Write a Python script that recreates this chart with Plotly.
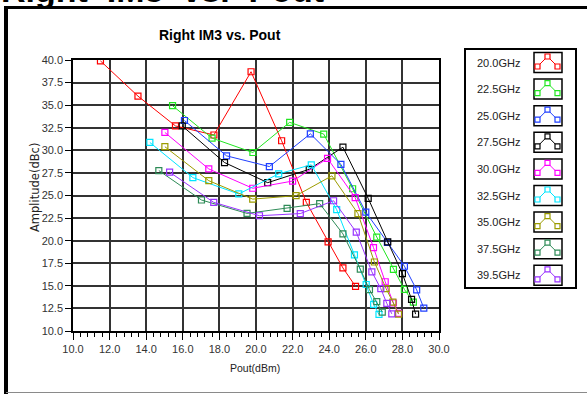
import plotly.graph_objects as go

# ---- data ----
series_names = ["20.0GHz", "22.5GHz", "25.0GHz", "27.5GHz", "30.0GHz",
                "32.5GHz", "35.0GHz", "37.5GHz", "39.5GHz"]
series_colors = ["#ff0000", "#22e622", "#1f3fff", "#000000", "#ff00ff",
                 "#00e5ff", "#9c9c00", "#2e8b57", "#9933ff"]

pout_20_0 = [11.5, 13.55, 15.6, 17.7, 19.73, 21.4, 22.75, 23.94, 24.75, 25.44]
im3_20_0 = [39.9, 36.0, 32.7, 31.7, 38.7, 31.06, 24.24, 19.87, 16.98, 14.94]

pout_22_5 = [15.44, 17.6, 19.83, 21.84, 23.7, 25.28, 26.6, 27.51, 28.11, 28.6]
im3_22_5 = [34.94, 31.35, 29.76, 33.1, 31.8, 25.75, 20.4, 16.83, 14.6, 13.2]

pout_25_0 = [16.09, 18.39, 20.73, 22.97, 24.64, 26.0, 27.18, 28.11, 28.78, 29.17]
im3_25_0 = [33.3, 29.39, 28.2, 31.83, 28.45, 23.15, 19.82, 17.17, 14.55, 12.54]

pout_27_5 = [15.97, 18.28, 20.64, 22.91, 24.75, 26.13, 27.2, 28.0, 28.5, 28.72]
im3_27_5 = [32.7, 28.65, 26.42, 27.9, 30.35, 24.68, 19.87, 16.35, 13.5, 11.87]

pout_30_0 = [15.02, 17.42, 19.82, 22.0, 23.91, 25.42, 26.42, 27.06, 27.51, 27.79]
im3_30_0 = [31.98, 27.94, 25.8, 26.6, 29.1, 24.76, 19.24, 15.45, 13.1, 11.95]

pout_32_5 = [14.2, 16.55, 19.06, 21.24, 23.02, 24.41, 25.38, 26.02, 26.43, 26.72]
im3_32_5 = [30.87, 26.98, 25.17, 27.4, 28.4, 23.43, 18.43, 15.15, 12.94, 11.83]

pout_35_0 = [15.02, 17.42, 19.82, 22.19, 24.15, 25.57, 26.47, 27.11, 27.48, 27.79]
im3_35_0 = [30.4, 26.64, 24.6, 24.98, 27.18, 23.0, 17.64, 14.69, 13.2, 11.87]

pout_37_5 = [14.69, 17.02, 19.51, 21.7, 23.48, 24.75, 25.7, 26.2, 26.6, 26.9]
im3_37_5 = [27.76, 24.5, 23.02, 23.58, 24.1, 20.75, 16.85, 14.58, 13.25, 12.1]

pout_39_5 = [15.28, 17.69, 20.19, 22.42, 24.24, 25.48, 26.33, 26.82, 27.15, 27.42]
im3_39_5 = [27.58, 24.24, 22.76, 23.0, 24.42, 20.95, 16.55, 14.69, 13.05, 11.9]

series_x = [pout_20_0, pout_22_5, pout_25_0, pout_27_5, pout_30_0,
            pout_32_5, pout_35_0, pout_37_5, pout_39_5]
series_y = [im3_20_0, im3_22_5, im3_25_0, im3_27_5, im3_30_0,
            im3_32_5, im3_35_0, im3_37_5, im3_39_5]

x_ticks = [10.0, 12.0, 14.0, 16.0, 18.0, 20.0, 22.0, 24.0, 26.0, 28.0, 30.0]
y_ticks = [10.0, 12.5, 15.0, 17.5, 20.0, 22.5, 25.0, 27.5, 30.0, 32.5, 35.0, 37.5, 40.0]

# ---- layout geometry (pixels) ----
W, H = 587, 394
L, R, T, B = 73, 439, 60, 331


def px(x):
    return (x - L) / (R - L)


def py(y):
    return (B - y) / (B - T)


fig = go.Figure()
for name, col, xs, ys in zip(series_names, series_colors, series_x, series_y):
    fig.add_trace(go.Scatter(
        x=xs, y=ys, mode="lines+markers", name=name,
        line=dict(color=col, width=1),
        marker=dict(symbol="square-open", size=6, color=col, line=dict(width=1.2, color=col)),
        showlegend=False,
    ))

shapes = []
annotations = []

# outer frame
shapes.append(dict(type="line", xref="paper", yref="paper", x0=px(6), x1=px(590), y0=py(7.5), y1=py(7.5),
                   line=dict(color="black", width=3)))
shapes.append(dict(type="line", xref="paper", yref="paper", x0=px(6), x1=px(6), y0=py(6), y1=py(400),
                   line=dict(color="black", width=4)))
shapes.append(dict(type="line", xref="paper", yref="paper", x0=px(6), x1=px(590), y0=py(392.5), y1=py(392.5),
                   line=dict(color="#8a8a8a", width=1)))

# manual legend
shapes.append(dict(type="rect", xref="paper", yref="paper", x0=px(465), x1=px(576), y0=py(49), y1=py(288),
                   line=dict(color="black", width=2), fillcolor="white"))
for i, (name, col) in enumerate(zip(series_names, series_colors)):
    cy = 62.5 + i * 26.6
    annotations.append(dict(xref="paper", yref="paper", x=px(522), y=py(cy), xanchor="right", yanchor="middle",
                            text=name, showarrow=False,
                            font=dict(family="Liberation Sans, Arial", size=11, color="#222")))
    shapes.append(dict(type="rect", xref="paper", yref="paper", x0=px(534), x1=px(562), y0=py(cy - 10), y1=py(cy + 10),
                       line=dict(color="black", width=1.5), fillcolor="white"))
    pts = [(536.5, cy + 6), (537.5, cy + 4), (547.5, cy - 6), (557.5, cy + 4), (559, cy + 4)]
    path = "M " + " L ".join(f"{px(a)},{py(b)}" for a, b in pts)
    shapes.append(dict(type="path", xref="paper", yref="paper", path=path, line=dict(color=col, width=1)))
    for (mx, my) in [(537.5, cy + 4), (547.5, cy - 6), (557.5, cy + 4)]:
        shapes.append(dict(type="rect", xref="paper", yref="paper", x0=px(mx - 2.5), x1=px(mx + 2.5),
                           y0=py(my - 2.5), y1=py(my + 2.5), line=dict(color=col, width=1.2), fillcolor="white"))

# headings
annotations.append(dict(xref="paper", yref="paper", x=px(-1), y=py(-10), xanchor="left", yanchor="middle",
                        text="<b>Right  IM3  vs.  Pout</b>", showarrow=False,
                        font=dict(family="Liberation Sans, Arial", size=34, color="black")))
annotations.append(dict(xref="paper", yref="paper", x=px(220), y=py(35), xanchor="center", yanchor="middle",
                        text="<b>Right IM3 vs. Pout</b>", showarrow=False,
                        font=dict(family="Liberation Sans, Arial", size=14, color="black")))
# axis titles
annotations.append(dict(xref="paper", yref="paper", x=px(255), y=py(368), xanchor="center", yanchor="middle",
                        text="Pout(dBm)", showarrow=False,
                        font=dict(family="Liberation Sans, Arial", size=10.5, color="#222")))
annotations.append(dict(xref="paper", yref="paper", x=px(35), y=py(188), xanchor="center", yanchor="middle",
                        text="Amplitude(dBc)", showarrow=False, textangle=-90,
                        font=dict(family="DejaVu Sans", size=11.5, color="#222")))

fig.update_layout(
    width=W, height=H,
    margin=dict(l=L, r=W - R, t=T, b=H - B, pad=0),
    paper_bgcolor="white", plot_bgcolor="white",
    shapes=shapes, annotations=annotations,
    showlegend=False,
    font=dict(family="Liberation Sans, Arial", size=11, color="#333"),
)
fig.update_xaxes(
    range=[10, 30], tickvals=x_ticks, ticktext=[f"{v:.1f}" for v in x_ticks],
    showgrid=True, gridcolor="#333333", gridwidth=1.5,
    showline=True, linecolor="black", linewidth=1.5, mirror=True,
    ticks="outside", ticklen=7, tickcolor="black", tickwidth=1,
    minor=dict(dtick=0.4, ticks="outside", ticklen=4, tickcolor="black", showgrid=False),
    zeroline=False,
    tickfont=dict(size=11, color="#333"),
)
fig.update_yaxes(
    range=[10, 40], tickvals=y_ticks, ticktext=[f"{v:.1f}" for v in y_ticks],
    showgrid=True, gridcolor="#333333", gridwidth=1.5,
    showline=True, linecolor="black", linewidth=1.5, mirror=True,
    ticks="outside", ticklen=6, tickcolor="black", tickwidth=1,
    zeroline=False,
    tickfont=dict(size=11, color="#333"),
)

fig.write_html("out.html")
